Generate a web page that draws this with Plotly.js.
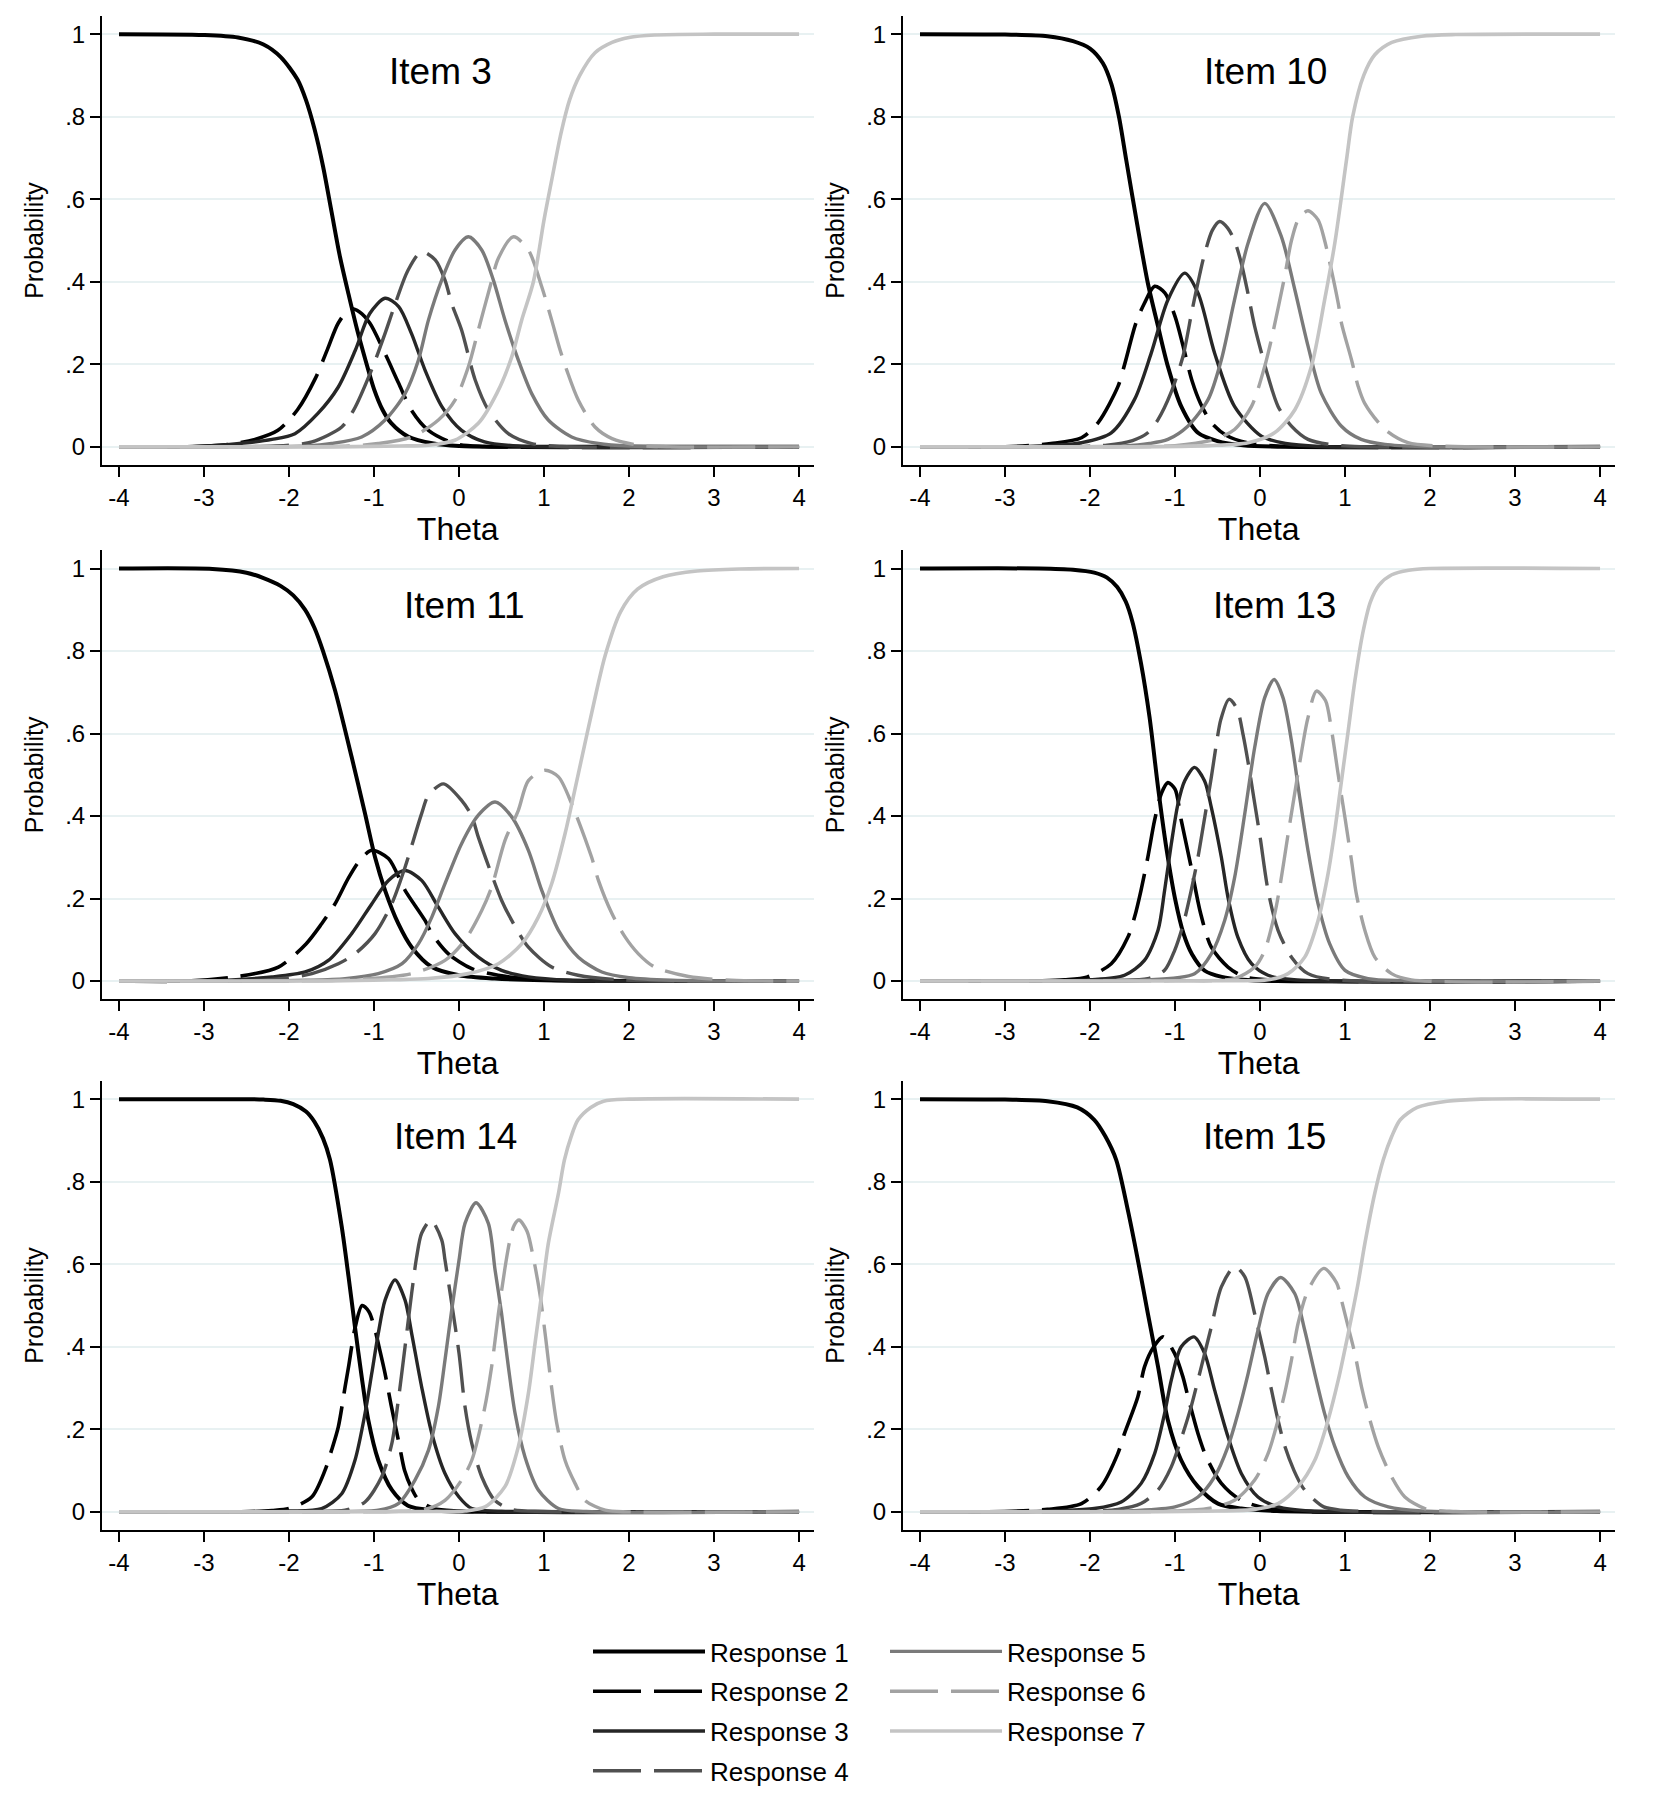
<!DOCTYPE html>
<html>
<head>
<meta charset="utf-8">
<script src="https://cdn.plot.ly/plotly-3.0.1.min.js"></script>
<style>
  html, body { margin: 0; padding: 0; background: #fff; }
  #chart { width: 1654px; height: 1808px; }
</style>
</head>
<body>
<div id="chart"></div>
<script>
// Category response curves, one [theta, probability] list per response
const responseNames = ['Response 1', 'Response 2', 'Response 3', 'Response 4',
                       'Response 5', 'Response 6', 'Response 7'];
const itemTitles = ['Item 3', 'Item 10', 'Item 11', 'Item 13', 'Item 14', 'Item 15'];
const thetaTicks = [-4, -3, -2, -1, 0, 1, 2, 3, 4];
const thetaTickText = ['-4', '-3', '-2', '-1', '0', '1', '2', '3', '4'];
const probTicks = [0, 0.2, 0.4, 0.6, 0.8, 1];
const probTickText = ['0', '.2', '.4', '.6', '.8', '1'];

const item3 = [
    [[-4,1],[-3,.998],[-2.6,.992],[-2.3,.975],[-2.1,.945],[-1.9,.89],[-1.8,.84],[-1.7,.77],[-1.6,.68],[-1.5,.57],[-1.4,.46],[-1.3,.37],[-1.2,.285],[-1.1,.21],[-1,.14],[-0.9,.09],[-0.8,.058],[-0.6,.025],[-0.3,.008],[0,.002],[0.5,0],[4,0]],
    [[-4,0],[-3.2,0],[-2.7,.006],[-2.4,.018],[-2.13,.04],[-1.9,.09],[-1.69,.166],[-1.55,.235],[-1.42,.3],[-1.28,.335],[-1.17,.327],[-1.05,.3],[-0.87,.226],[-0.71,.154],[-0.56,.089],[-0.36,.04],[-0.05,.008],[0.3,.001],[4,0]],
    [[-4,0],[-3.2,0],[-2.7,.006],[-2.2,.018],[-1.93,.032],[-1.66,.081],[-1.42,.145],[-1.22,.234],[-1.05,.323],[-0.87,.36],[-0.71,.34],[-0.56,.275],[-0.4,.186],[-0.2,.097],[0.03,.04],[0.3,.012],[0.7,.002],[4,0]],
    [[-4,0],[-2.6,0],[-2,.004],[-1.73,.012],[-1.38,.048],[-1.24,.089],[-1.03,.186],[-0.87,.275],[-0.75,.347],[-0.6,.428],[-0.44,.473],[-0.28,.453],[-0.165,.404],[-0.086,.347],[0.03,.283],[0.19,.162],[0.345,.089],[0.58,.032],[0.855,.008],[1.2,.001],[4,0]],
    [[-4,0],[-2.5,0],[-1.8,.002],[-1.5,.008],[-1.145,.024],[-0.87,.065],[-0.635,.129],[-0.478,.21],[-0.36,.307],[-0.204,.404],[-0.047,.477],[0.11,.509],[0.267,.477],[0.404,.404],[0.541,.307],[0.698,.21],[0.855,.129],[1.05,.065],[1.325,.024],[1.64,.008],[2,.002],[4,0]],
    [[-4,0],[-2,0],[-1.3,.002],[-0.95,.008],[-0.557,.024],[-0.243,.065],[-0.047,.113],[0.11,.194],[0.227,.283],[0.365,.388],[0.463,.457],[0.64,.509],[0.816,.477],[0.973,.388],[1.09,.307],[1.19,.234],[1.267,.186],[1.404,.113],[1.6,.048],[1.8,.02],[2.11,.004],[2.5,0],[4,0]],
    [[-4,0],[-1.5,0],[-0.7,.002],[-0.36,.004],[-0.05,.016],[0.227,.057],[0.443,.129],[0.62,.218],[0.737,.307],[0.875,.4],[1,.55],[1.09,.646],[1.2,.76],[1.3,.84],[1.42,.9],[1.6,.955],[1.8,.98],[2,.992],[2.3,.998],[3,1],[4,1]]
];

const item10 = [
    [[-4,1],[-3,.999],[-2.5,.995],[-2.2,.983],[-2,.965],[-1.85,.93],[-1.75,.88],[-1.66,.8],[-1.574,.695],[-1.45,.545],[-1.32,.397],[-1.2,.292],[-1.084,.195],[-0.927,.098],[-0.73,.034],[-0.5,.014],[-0.2,.004],[0.3,0],[4,0]],
    [[-4,0],[-3,0],[-2.46,.008],[-2.1,.022],[-1.9,.06],[-1.67,.147],[-1.594,.199],[-1.46,.3],[-1.36,.348],[-1.24,.389],[-1.12,.373],[-1,.316],[-0.9,.24],[-0.8,.16],[-0.7,.105],[-0.57,.058],[-0.4,.028],[-0.15,.01],[0.2,.002],[4,0]],
    [[-4,0],[-3,0],[-2.4,.004],[-2.1,.01],[-1.75,.034],[-1.476,.115],[-1.28,.227],[-1.084,.356],[-0.887,.421],[-0.73,.373],[-0.534,.227],[-0.3,.098],[0.016,.026],[0.3,.008],[0.7,.001],[4,0]],
    [[-4,0],[-2.5,0],[-1.8,.004],[-1.5,.015],[-1.32,.034],[-1.2,.066],[-1.05,.13],[-0.907,.219],[-0.8,.33],[-0.71,.417],[-0.66,.461],[-0.56,.525],[-0.475,.546],[-0.38,.53],[-0.298,.498],[-0.22,.445],[-0.14,.37],[-0.063,.292],[0.094,.171],[0.212,.098],[0.37,.05],[0.565,.018],[0.9,.004],[4,0]],
    [[-4,0],[-2.5,0],[-1.6,.002],[-1.3,.008],[-1.084,.018],[-0.85,.05],[-0.61,.115],[-0.455,.211],[-0.3,.356],[-0.14,.494],[0.055,.59],[0.25,.51],[0.41,.38],[0.565,.244],[0.72,.13],[0.958,.05],[1.19,.018],[1.47,.006],[1.9,.001],[4,0]],
    [[-4,0],[-2,0],[-1,.003],[-0.534,.018],[-0.3,.042],[-0.1,.098],[0.055,.195],[0.133,.26],[0.29,.413],[0.37,.5],[0.46,.555],[0.565,.572],[0.683,.55],[0.76,.5],[0.92,.348],[0.958,.3],[1.076,.211],[1.154,.147],[1.23,.106],[1.47,.042],[1.74,.01],[2.1,.002],[4,0]],
    [[-4,0],[-1.5,0],[-0.6,.003],[-0.14,.01],[0.17,.034],[0.41,.09],[0.605,.195],[0.76,.356],[0.88,.494],[1.017,.695],[1.09,.8],[1.22,.9],[1.35,.95],[1.55,.98],[1.9,.995],[2.3,.999],[4,1]]
];

const item11 = [
    [[-4,1],[-2.9,.999],[-2.5,.99],[-2.3,.977],[-2.1,.958],[-1.95,.935],[-1.81,.9],[-1.7,.856],[-1.6,.8],[-1.459,.705],[-1.263,.543],[-1.106,.406],[-0.988,.3],[-0.87,.22],[-0.714,.139],[-0.557,.082],[-0.32,.034],[0,.014],[0.42,.006],[1,.002],[4,0]],
    [[-4,0],[-3.2,0],[-2.6,.011],[-2.125,.034],[-1.8,.09],[-1.616,.139],[-1.459,.187],[-1.3,.25],[-1.165,.293],[-1.027,.317],[-0.83,.297],[-0.635,.22],[-0.4,.147],[-0.32,.115],[-0.125,.066],[0.15,.03],[0.46,.014],[1,.003],[4,0]],
    [[-4,0],[-3,0],[-2.2,.01],[-1.81,.022],[-1.537,.05],[-1.263,.115],[-1.027,.187],[-0.83,.244],[-0.635,.268],[-0.44,.244],[-0.243,.179],[-0.047,.115],[0.227,.058],[0.5,.026],[0.816,.01],[1.3,.002],[4,0]],
    [[-4,0],[-2.6,0],[-2.1,.006],[-1.73,.018],[-1.42,.042],[-1.224,.066],[-0.988,.115],[-0.792,.187],[-0.635,.276],[-0.44,.406],[-0.36,.45],[-0.184,.478],[0.03,.438],[0.15,.4],[0.227,.349],[0.5,.196],[0.62,.147],[0.816,.082],[1.09,.034],[1.4,.014],[1.9,.003],[4,0]],
    [[-4,0],[-2.4,0],[-1.8,.002],[-1.34,.006],[-0.95,.018],[-0.67,.042],[-0.478,.09],[-0.32,.155],[-0.165,.236],[0.03,.333],[0.227,.402],[0.424,.434],[0.62,.398],[0.816,.317],[0.973,.22],[1.17,.123],[1.404,.058],[1.68,.022],[2,.008],[2.5,.002],[4,0]],
    [[-4,0],[-2,0],[-1.2,.004],[-0.557,.018],[-0.165,.05],[0.07,.099],[0.267,.171],[0.384,.228],[0.541,.341],[0.698,.414],[0.816,.486],[1.012,.511],[1.17,.495],[1.325,.43],[1.56,.3],[1.64,.244],[1.8,.163],[1.953,.107],[2.11,.066],[2.3,.034],[2.7,.011],[3.2,.002],[4,0]],
    [[-4,0],[-1.5,0],[-0.8,.003],[-0.36,.006],[0.11,.018],[0.463,.042],[0.737,.09],[0.933,.155],[1.09,.236],[1.247,.357],[1.404,.503],[1.62,.705],[1.72,.79],[1.9,.895],[2.1,.95],[2.4,.98],[2.8,.994],[3.3,.999],[4,1]]
];

const item13 = [
    [[-4,1],[-2.6,1],[-2.2,.997],[-1.95,.99],[-1.8,.978],[-1.68,.955],[-1.58,.92],[-1.5,.87],[-1.4,.77],[-1.3,.64],[-1.2,.47],[-1.1,.32],[-1,.2],[-0.9,.115],[-0.8,.065],[-0.65,.025],[-0.45,.01],[-0.2,.003],[0.2,0],[4,0]],
    [[-4,0],[-2.8,0],[-2.3,.003],[-2.03,.01],[-1.75,.042],[-1.555,.106],[-1.476,.155],[-1.4,.22],[-1.32,.3],[-1.24,.39],[-1.16,.455],[-1.084,.481],[-1,.465],[-0.927,.39],[-0.81,.276],[-0.7,.165],[-0.573,.082],[-0.377,.034],[-0.18,.01],[0.2,.002],[4,0]],
    [[-4,0],[-2.6,0],[-2,.003],[-1.594,.014],[-1.36,.05],[-1.2,.123],[-1.123,.219],[-1.044,.332],[-0.966,.429],[-0.887,.485],[-0.77,.518],[-0.652,.485],[-0.573,.421],[-0.455,.3],[-0.377,.203],[-0.26,.106],[-0.1,.042],[0.094,.014],[0.4,.003],[4,0]],
    [[-4,0],[-2.5,0],[-1.7,.002],[-1.32,.006],[-1.123,.026],[-1.005,.074],[-0.9,.14],[-0.81,.219],[-0.73,.3],[-0.67,.373],[-0.573,.494],[-0.514,.574],[-0.46,.635],[-0.365,.683],[-0.27,.66],[-0.2,.598],[-0.14,.53],[-0.07,.44],[0,.35],[0.094,.22],[0.212,.123],[0.37,.058],[0.565,.018],[0.9,.003],[4,0]],
    [[-4,0],[-2.3,0],[-1.4,.002],[-0.77,.018],[-0.573,.066],[-0.416,.147],[-0.298,.252],[-0.18,.405],[-0.063,.566],[0.055,.687],[0.165,.731],[0.27,.687],[0.37,.582],[0.467,.445],[0.565,.316],[0.683,.187],[0.82,.09],[1,.026],[1.27,.006],[1.7,.001],[4,0]],
    [[-4,0],[-2,0],[-1,.001],[-0.3,.006],[-0.063,.034],[0.055,.074],[0.173,.163],[0.232,.227],[0.33,.356],[0.408,.455],[0.48,.545],[0.56,.635],[0.664,.703],[0.77,.68],[0.84,.61],[0.92,.5],[1,.395],[1.076,.292],[1.134,.21],[1.233,.123],[1.35,.058],[1.547,.018],[1.78,.003],[4,0]],
    [[-4,0],[-1.5,0],[-0.4,.001],[0.094,.003],[0.33,.018],[0.526,.058],[0.683,.147],[0.8,.26],[0.88,.365],[0.958,.485],[1.037,.606],[1.115,.727],[1.213,.848],[1.3,.92],[1.4,.96],[1.55,.985],[1.75,.996],[2,1],[4,1]]
];

const item14 = [
    [[-4,1],[-2.5,1],[-2.3,.999],[-2.1,.996],[-1.95,.988],[-1.8,.97],[-1.7,.945],[-1.6,.905],[-1.518,.853],[-1.38,.691],[-1.3,.57],[-1.224,.448],[-1.145,.327],[-1.067,.222],[-0.95,.125],[-0.79,.053],[-0.6,.015],[-0.32,.004],[0,.001],[4,0]],
    [[-4,0],[-2.6,0],[-2.2,.003],[-2,.008],[-1.733,.036],[-1.576,.101],[-1.5,.149],[-1.42,.206],[-1.34,.303],[-1.3,.351],[-1.224,.445],[-1.14,.5],[-1.06,.485],[-1,.45],[-0.93,.39],[-0.87,.335],[-0.8,.26],[-0.7,.16],[-0.64,.1],[-0.56,.058],[-0.48,.03],[-0.3,.008],[0,.002],[4,0]],
    [[-4,0],[-2.5,0],[-2,.002],[-1.616,.008],[-1.38,.044],[-1.224,.125],[-1.106,.238],[-1.027,.335],[-0.95,.432],[-0.87,.513],[-0.753,.562],[-0.635,.513],[-0.557,.432],[-0.44,.303],[-0.32,.19],[-0.165,.093],[0,.036],[0.15,.008],[0.5,.001],[4,0]],
    [[-4,0],[-2.5,0],[-1.7,.001],[-1.34,.004],[-1.106,.024],[-0.91,.085],[-0.79,.166],[-0.714,.271],[-0.635,.4],[-0.557,.53],[-0.498,.618],[-0.44,.675],[-0.33,.707],[-0.204,.659],[-0.165,.61],[-0.086,.505],[0,.384],[0.07,.255],[0.15,.166],[0.267,.085],[0.42,.028],[0.62,.006],[1,.001],[4,0]],
    [[-4,0],[-2.3,0],[-1.4,.001],[-0.95,.004],[-0.714,.02],[-0.518,.077],[-0.36,.149],[-0.243,.255],[-0.165,.368],[-0.086,.489],[0,.61],[0.07,.699],[0.2,.749],[0.345,.699],[0.424,.586],[0.5,.481],[0.58,.352],[0.66,.238],[0.776,.133],[0.933,.053],[1.17,.008],[1.5,.001],[4,0]],
    [[-4,0],[-2,0],[-0.8,.001],[-0.4,.006],[-0.165,.028],[0.03,.077],[0.15,.125],[0.3,.25],[0.384,.352],[0.463,.48],[0.54,.59],[0.6,.66],[0.65,.695],[0.706,.707],[0.8,.68],[0.87,.62],[0.95,.53],[1.02,.42],[1.09,.3],[1.15,.214],[1.247,.125],[1.365,.069],[1.48,.028],[1.72,.004],[2,0],[4,0]],
    [[-4,0],[-1.5,0],[-0.3,.001],[0.07,.002],[0.306,.012],[0.54,.061],[0.698,.158],[0.816,.287],[0.894,.408],[0.973,.529],[1.05,.65],[1.17,.772],[1.24,.853],[1.32,.91],[1.4,.95],[1.55,.98],[1.7,.995],[2,1],[4,1]]
];

const item15 = [
    [[-4,1],[-3,.999],[-2.5,.995],[-2.15,.98],[-1.95,.95],[-1.82,.91],[-1.692,.853],[-1.555,.731],[-1.437,.61],[-1.32,.481],[-1.2,.352],[-1.084,.222],[-0.927,.125],[-0.73,.061],[-0.495,.02],[-0.22,.008],[0.2,.002],[4,0]],
    [[-4,0],[-3.2,0],[-2.5,.006],[-2.1,.02],[-1.87,.061],[-1.673,.141],[-1.594,.19],[-1.437,.279],[-1.358,.352],[-1.25,.4],[-1.142,.424],[-1.005,.384],[-0.907,.327],[-0.848,.279],[-0.73,.19],[-0.632,.133],[-0.455,.069],[-0.22,.028],[0.094,.008],[0.5,.001],[4,0]],
    [[-4,0],[-3,0],[-2.4,.003],[-1.95,.008],[-1.633,.024],[-1.398,.069],[-1.24,.141],[-1.123,.238],[-1.044,.319],[-0.927,.4],[-0.777,.424],[-0.652,.384],[-0.534,.295],[-0.377,.182],[-0.22,.093],[-0.024,.036],[0.212,.012],[0.6,.002],[4,0]],
    [[-4,0],[-2.6,0],[-2,.002],[-1.67,.006],[-1.4,.02],[-1.2,.053],[-1.044,.109],[-0.907,.19],[-0.81,.255],[-0.69,.352],[-0.573,.448],[-0.455,.545],[-0.3,.594],[-0.18,.57],[-0.063,.48],[0.055,.376],[0.13,.3],[0.212,.222],[0.29,.16],[0.4,.1],[0.5,.06],[0.6,.036],[0.75,.012],[0.95,.004],[1.3,.001],[4,0]],
    [[-4,0],[-2.4,0],[-1.5,.003],[-1,.012],[-0.73,.036],[-0.534,.085],[-0.377,.158],[-0.26,.238],[-0.14,.335],[-0.024,.44],[0.094,.529],[0.243,.568],[0.408,.529],[0.526,.44],[0.644,.335],[0.76,.238],[0.88,.158],[1.037,.085],[1.233,.036],[1.51,.012],[1.9,.002],[4,0]],
    [[-4,0],[-2,0],[-1,.002],[-0.61,.008],[-0.3,.028],[-0.063,.077],[0.094,.141],[0.212,.222],[0.29,.287],[0.37,.368],[0.448,.457],[0.565,.537],[0.75,.59],[0.9,.555],[0.958,.513],[1.037,.448],[1.115,.384],[1.194,.303],[1.272,.238],[1.39,.158],[1.547,.085],[1.704,.036],[1.94,.008],[2.3,.001],[4,0]],
    [[-4,0],[-1.5,0],[-0.5,.002],[-0.063,.006],[0.212,.02],[0.448,.061],[0.644,.125],[0.8,.222],[0.92,.319],[1.037,.432],[1.154,.554],[1.233,.65],[1.35,.772],[1.45,.853],[1.55,.91],[1.65,.95],[1.85,.98],[2.2,.995],[2.6,1],[4,1]]
];

const items = [item3, item10, item11, item13, item14, item15];

// styling
const FONT = 'Liberation Sans, Arial, Helvetica, sans-serif';
const lineColors = ['#000000', '#000000', '#262626', '#505050', '#7a7a7a', '#a2a2a2', '#c4c4c4'];
const lineDash = ['solid', '48px,13px', 'solid', '48px,13px', 'solid', '48px,13px', 'solid'];
const lineWidth = [4, 3.6, 3.4, 3.4, 3.4, 3.4, 3.6];

// panel placement (paper fractions) for a 1654 x 1808 page
const W = 1654, H = 1808;
const colDomains = [[102 / W, 813.5 / W], [903 / W, 1614.5 / W]];
const rowDomains = [[1 - 465 / H, 1 - 16 / H], [1 - 999.2 / H, 1 - 550.4 / H], [1 - 1530 / H, 1 - 1081 / H]];
const titleX = [-0.22, 0.06, 0.07, 0.17, -0.04, 0.05];

const legendBox = {
    y: 1 - 1628 / H, xanchor: 'left', yanchor: 'top',
    font: { family: FONT, size: 26, color: '#000' },
    itemwidth: 112, tracegroupgap: 3, bgcolor: 'rgba(0,0,0,0)'
};

const traces = [];
const annotations = [];
const layout = {
    width: W,
    height: H,
    margin: { t: 0, r: 0, b: 0, l: 0 },
    paper_bgcolor: 'white',
    plot_bgcolor: 'white',
    font: { family: FONT, color: '#000', size: 24 },
    showlegend: true,
    legend: Object.assign({ x: 588 / W }, legendBox),
    legend2: Object.assign({ x: 885 / W }, legendBox)
};

items.forEach((curves, i) => {
    const n = i + 1;
    const xName = n === 1 ? 'x' : 'x' + n;
    const yName = n === 1 ? 'y' : 'y' + n;
    const col = i % 2;
    const row = Math.floor(i / 2);

    layout[n === 1 ? 'xaxis' : 'xaxis' + n] = {
        domain: colDomains[col],
        anchor: yName,
        range: [-4.2, 4.17],
        tickmode: 'array',
        tickvals: thetaTicks,
        ticktext: thetaTickText,
        ticks: 'outside', ticklen: 10, tickwidth: 2, tickcolor: '#000',
        tickfont: { family: FONT, size: 24, color: '#000' },
        showline: true, linecolor: '#000', linewidth: 2,
        showgrid: false, zeroline: false,
        title: { text: 'Theta', font: { family: FONT, size: 32, color: '#000' }, standoff: 0 }
    };
    layout[n === 1 ? 'yaxis' : 'yaxis' + n] = {
        domain: rowDomains[row],
        anchor: xName,
        range: [-0.044, 1.044],
        tickmode: 'array',
        tickvals: probTicks,
        ticktext: probTickText,
        ticks: 'outside', ticklen: 10, tickwidth: 2, tickcolor: '#000',
        tickfont: { family: FONT, size: 24, color: '#000' },
        showline: true, linecolor: '#000', linewidth: 2,
        showgrid: true, gridcolor: '#e8f1f2', gridwidth: 1.5, zeroline: false,
        title: { text: 'Probability', font: { family: FONT, size: 25, color: '#000' }, standoff: 14 }
    };

    curves.forEach((pts, r) => {
        traces.push({
            type: 'scatter',
            mode: 'lines',
            x: pts.map(p => p[0]),
            y: pts.map(p => p[1]),
            xaxis: xName,
            yaxis: yName,
            name: responseNames[r],
            legendgroup: 'resp' + r,
            legend: r < 4 ? 'legend' : 'legend2',
            showlegend: i === 0,
            line: { color: lineColors[r], width: lineWidth[r], dash: lineDash[r], shape: 'spline', smoothing: 0.8 },
            hovertemplate: responseNames[r] + '<br>Theta: %{x:.2f}<br>P: %{y:.3f}<extra>' + itemTitles[i] + '</extra>'
        });
    });

    annotations.push({
        text: itemTitles[i],
        xref: xName, yref: yName,
        x: titleX[i], y: 0.91,
        showarrow: false,
        font: { family: FONT, size: 37, color: '#000' }
    });
});

layout.annotations = annotations;

Plotly.newPlot('chart', traces, layout, { displayModeBar: false, responsive: false });
</script>
</body>
</html>
